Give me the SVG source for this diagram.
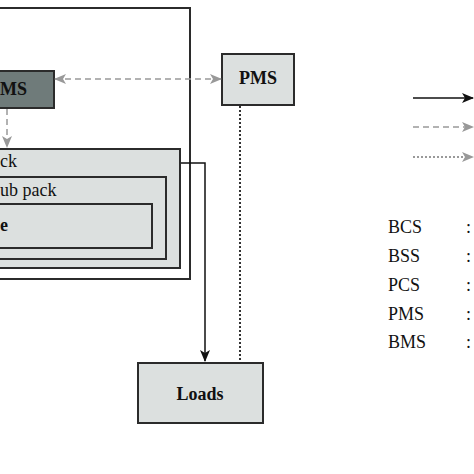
<svg xmlns="http://www.w3.org/2000/svg" width="474" height="474" viewBox="0 0 474 474">
<style>
.box{stroke:#2b2b2b;stroke-width:2}
.light{fill:#dce0df}
.lbl{font-family:"Liberation Serif",serif;font-weight:bold;font-size:18px;fill:#111}
.reg{font-family:"Liberation Serif",serif;font-size:18px;fill:#111}
.solid{stroke:#111;stroke-width:1.5;fill:none}
.dash{stroke:#999;stroke-width:1.5;stroke-dasharray:6,4;fill:none}
.dot{stroke:#333;stroke-width:2;stroke-dasharray:2,2;fill:none}
.gdot{stroke:#999;stroke-width:2;stroke-dasharray:2,2;fill:none}
</style>
<defs>
<marker id="ab" viewBox="0 0 12 10" refX="11" refY="5" markerWidth="12" markerHeight="10" markerUnits="userSpaceOnUse" orient="auto-start-reverse">
<path d="M0,0 L12,5 L0,10 L3,5 Z" fill="#111"/>
</marker>
<marker id="ag" viewBox="0 0 12 10" refX="11" refY="5" markerWidth="12" markerHeight="10" markerUnits="userSpaceOnUse" orient="auto-start-reverse">
<path d="M0,0 L12,5 L0,10 L3,5 Z" fill="#999"/>
</marker>
</defs>
<rect width="474" height="474" fill="#fff"/>
<g id="system">
<rect x="-10" y="8" width="200" height="271" fill="none" class="box" stroke-width="1.5"/>
</g>
<g id="pack">
<rect x="-10" y="149" width="190" height="119" class="box light"/>
<text x="0" y="167" class="reg">ck</text>
</g>
<g id="subpack">
<rect x="-10" y="177" width="176" height="82" class="box light"/>
<text x="0" y="196" class="reg">ub pack</text>
</g>
<g id="cell">
<rect x="-10" y="204" width="162" height="44" class="box light"/>
<text x="0" y="231" class="lbl">e</text>
</g>
<g id="bms">
<rect x="-10" y="71" width="64" height="37" class="box" fill="#6f7b7a"/>
<text x="0" y="95" class="lbl">MS</text>
</g>
<g id="pms">
<rect x="222" y="54" width="72" height="51" class="box light"/>
<text x="258" y="84" class="lbl" text-anchor="middle">PMS</text>
</g>
<g id="loads">
<rect x="138" y="363" width="125" height="60" class="box light"/>
<text x="200" y="400" class="lbl" text-anchor="middle">Loads</text>
</g>
<g id="connectors">
<line x1="55" y1="79" x2="221" y2="79" class="dash" marker-start="url(#ag)" marker-end="url(#ag)"/>
<line x1="7" y1="109" x2="7" y2="147" class="dash" marker-end="url(#ag)"/>
<polyline points="181,163 205,163 205,361" class="solid" marker-end="url(#ab)"/>
<line x1="240" y1="106" x2="240" y2="362" class="dot"/>
</g>
<g id="legend">
<line x1="413" y1="98" x2="473" y2="98" class="solid" stroke-width="2" marker-end="url(#ab)"/>
<line x1="413" y1="127" x2="473" y2="127" class="dash" marker-end="url(#ag)"/>
<line x1="413" y1="157" x2="473" y2="157" class="gdot" marker-end="url(#ag)"/>
<text x="388" y="233" class="reg">BCS</text>
<text x="388" y="262" class="reg">BSS</text>
<text x="388" y="291" class="reg">PCS</text>
<text x="388" y="320" class="reg">PMS</text>
<text x="388" y="348" class="reg">BMS</text>
<text x="466" y="233" class="reg">:</text>
<text x="466" y="262" class="reg">:</text>
<text x="466" y="291" class="reg">:</text>
<text x="466" y="320" class="reg">:</text>
<text x="466" y="348" class="reg">:</text>
</g>
</svg>
